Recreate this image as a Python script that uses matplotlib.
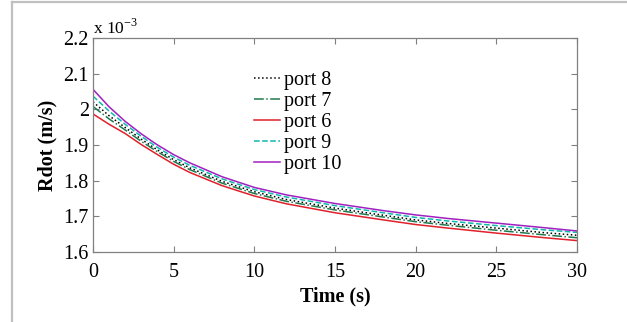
import matplotlib
matplotlib.use("Agg")
import matplotlib.pyplot as plt
from matplotlib.ticker import FuncFormatter
from matplotlib.lines import Line2D

# Rdot values in units of 1e-3 m/s
t = [0, 1, 2, 3, 4, 5, 6, 8, 10, 12, 15, 18, 20, 22, 25, 28, 30]
port8 = [2.021, 1.982, 1.949, 1.916, 1.886, 1.859, 1.836, 1.798, 1.769, 1.747, 1.723, 1.703, 1.690, 1.680, 1.667, 1.654, 1.647]
port7 = [2.008, 1.973, 1.942, 1.910, 1.881, 1.854, 1.831, 1.793, 1.764, 1.742, 1.718, 1.698, 1.685, 1.675, 1.661, 1.648, 1.640]
port6 = [1.987, 1.958, 1.932, 1.901, 1.873, 1.846, 1.823, 1.786, 1.757, 1.735, 1.710, 1.690, 1.677, 1.667, 1.653, 1.640, 1.632]
port9 = [2.037, 1.995, 1.958, 1.924, 1.893, 1.866, 1.843, 1.805, 1.775, 1.754, 1.730, 1.710, 1.697, 1.687, 1.674, 1.662, 1.655]
port10 = [2.056, 2.007, 1.966, 1.931, 1.900, 1.873, 1.850, 1.811, 1.781, 1.760, 1.736, 1.716, 1.704, 1.694, 1.681, 1.668, 1.659]

labels = ["port 8", "port 7", "port 6", "port 9", "port 10"]
series = [port8, port7, port6, port9, port10]
colors = ["#000000", "#1f7a4d", "#e0202a", "#10b8b0", "#a020c0"]
styles = [":", "-.", "-", "--", "-"]

plt.rcParams['font.family'] = ['Liberation Serif', 'DejaVu Serif']
plt.rcParams['mathtext.fontset'] = 'custom'
plt.rcParams['mathtext.rm'] = 'Liberation Serif'

fig = plt.figure(figsize=(6.27, 3.22), dpi=100)
ax = fig.add_axes([93/627, 1 - 252/322, (577-93)/627, (252-38)/322])

for y, lab, c, ls in zip(series, labels, colors, styles):
    ax.plot(t, y, color=c, linestyle=ls, linewidth=1.1, label=lab)

ax.set_xlim(0, 30)
ax.set_ylim(1.6, 2.2)
ax.set_xticks(range(0, 31, 5))
ax.set_yticks([1.6, 1.7, 1.8, 1.9, 2.0, 2.1, 2.2])
ax.yaxis.set_major_formatter(FuncFormatter(lambda v, p: "%g" % round(v, 2)))
ax.tick_params(direction="in", top=True, right=True, length=4, width=0.8,
               color="#808080", labelsize=14.5)
ax.tick_params(axis="x", pad=8)
ax.tick_params(axis="y", pad=3)
for s in ax.spines.values():
    s.set_color("#808080")
    s.set_linewidth(0.9)

ax.set_xlabel("Time (s)", fontsize=14.5, fontweight="bold", labelpad=3)
ax.set_ylabel("Rdot (m/s)", fontsize=14.5, fontweight="bold", labelpad=4)
ax.text(0.0, 1.0, r"x 10$^{\mathrm{-3}}$", transform=ax.transAxes, fontsize=12.5,
        ha="left", va="bottom")

ax.legend(loc="upper left", bbox_to_anchor=(0.315, 0.885), frameon=False,
          fontsize=14.5, handlelength=1.3, handletextpad=0.2,
          labelspacing=0.1, borderaxespad=0)

# outer frame lines (top and left)
fig.add_artist(Line2D([12/627, 1], [1 - 1.5/322, 1 - 1.5/322], color="#c0c0c0", linewidth=1.6))
fig.add_artist(Line2D([12/627, 12/627], [0, 1 - 1.5/322], color="#c0c0c0", linewidth=1.6))

fig.savefig("out.png", dpi=100)
